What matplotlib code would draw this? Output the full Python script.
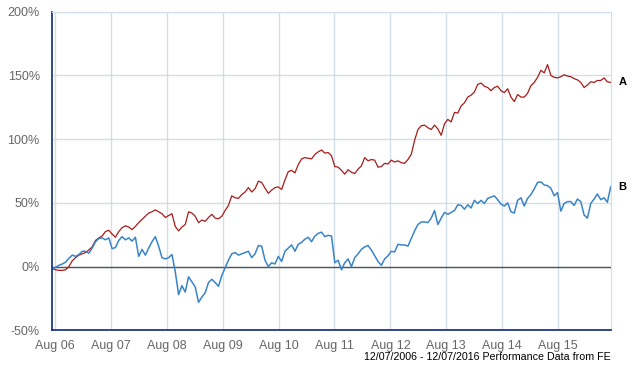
import pandas as pd
import matplotlib
matplotlib.use("Agg")
import matplotlib.pyplot as plt
import matplotlib.dates as mdates
from matplotlib.ticker import FuncFormatter

plt.rcParams['font.family'] = ['Liberation Sans', 'DejaVu Sans']

# cumulative performance (%), every ~3 weeks
series_a = [
    -1.5, -2.5, -3, -3, -2.5, 0, 4.5, 7, 9, 10, 11, 13, 15.5, 20.5, 22.5, 24, 27.5,
    28.5, 25.5, 23, 27.5, 30.5, 32, 31, 29, 31.5, 34.5, 37, 39.5, 42, 43, 44.5, 43, 41.5,
    38.5, 40, 41.5, 31.5, 28, 31, 33, 43, 42, 39.5, 34.5, 36.5, 35.5, 38.5, 41, 38,
    37.5, 39.5, 44, 48, 55.5, 54, 53.5, 56.5, 58.5, 62, 58.5, 61, 67, 66, 61.5, 57.5, 60, 62,
    62.5, 60.5, 68, 74.5, 75.5, 73.5, 80, 84.5, 85.5, 85, 84.5, 88, 90, 91.5, 89, 89.5,
    87, 78.5, 78, 75.5, 72.5, 76, 74, 73, 76.5, 79, 85.5, 83, 84, 83.5, 78, 78.5, 81, 80.5,
    83.5, 82, 83, 81.5, 81, 84, 88, 99, 107.5, 110.5, 111, 109, 107.5, 111, 108, 103,
    112, 115.5, 113.5, 121, 120.5, 126, 128.5, 133, 134.5, 137, 143, 144, 141.5, 140.5,
    138, 140.5, 141.5, 138,
    136.5, 139.5, 133, 129.5, 135, 133, 133, 136, 142, 144.5, 148.5, 154, 152, 158.5,
    150, 148.5, 148, 149, 150.5, 149.5, 149, 147.5, 146.5, 144.5, 140.5, 142.5, 145,
    144.5, 146, 146, 148, 145, 144.5,
]

series_b = [
    -2, -0.5, 1, 2, 3.5, 6.5, 9, 8, 9.5, 12, 12, 10.5, 14.5, 19.5, 22, 22.5, 21, 22.5,
    14, 15, 20.5, 23.5, 21, 22.5, 20, 23, 8, 13.5, 9, 14.5, 19.5, 23.5, 16, 7,
    6, 7, 9.5, -4, -22, -15, -20, -8, -12, -16, -28, -24, -20.5, -12.5, -10, -12.5,
    -15.5, -7, -1, 5, 10, 11, 9, 10, 11, 12, 7, 10, 16.5, 16, 5, 0, 3, 2,
    8, 4, 12, 14.5, 17, 12, 17.5, 19, 21.5, 23, 19.5, 24, 26, 27, 23.5, 24.5, 24, 3,
    5, -2.5, 3, 6, 0, 7, 10, 13.5, 15.5, 16.5, 13, 8.5, 4, 1, 6, 8.5,
    12, 11.5, 17.5, 17, 17, 16, 22, 28, 33, 35, 35, 34.5, 38, 44, 33, 38, 42.5, 41,
    42.5, 44, 48.5, 48, 45, 48.5, 46, 52, 49.5, 52, 49.5, 53.5, 54.5, 55.5, 52.5, 49,
    47.5, 50, 43, 42, 52, 54, 47.5, 53.5, 56.5, 61, 66, 66.5, 64, 63.5, 61.5, 55.5, 58,
    43.5, 49.5, 51, 51, 48, 53, 51, 40.5, 38, 49.5, 53, 57, 52.5, 54, 50.5, 62.5,
]

start, end = "2006-07-12", "2016-07-12"
dates = pd.date_range(start, end, periods=len(series_a))

fig = plt.figure(figsize=(6.4, 3.7), dpi=100)
ax = fig.add_axes([0.0817, 0.1073, 0.8725, 0.8611])

ax.plot(dates, series_a, color="#a81b1b", lw=0.9)
ax.plot(dates, series_b, color="#3a84c8", lw=1.1)
ax.axhline(0, color="#555555", lw=1.0, zorder=1)

ax.set_xlim(pd.Timestamp(start), pd.Timestamp(end))
ax.set_ylim(-50, 200)
ax.set_yticks([-50, 0, 50, 100, 150, 200])
ax.yaxis.set_major_formatter(FuncFormatter(lambda v, p: f"{v:.0f}%"))
ax.xaxis.set_major_locator(mdates.YearLocator(base=1, month=8, day=1))
ax.xaxis.set_major_formatter(mdates.DateFormatter("%b %y"))

ax.grid(True, color="#d3dfe8", lw=1.0)
ax.set_axisbelow(True)
ax.tick_params(length=0, labelsize=9, labelcolor="#666666")
ax.tick_params(axis="y", pad=9)
ax.tick_params(axis="x", pad=7)

for s in ["top", "right"]:
    ax.spines[s].set_color("#d3dfe8")
for s in ["left", "bottom"]:
    ax.spines[s].set_color("#0c2a80")
    ax.spines[s].set_linewidth(1.2)

ax.annotate("A", xy=(dates[-1], series_a[-1]), xytext=(12, 0), textcoords="offset pixels",
            ha="center", va="center", fontsize=8, fontweight="bold", annotation_clip=False)
ax.annotate("B", xy=(dates[-1], series_b[-1]), xytext=(12, 0), textcoords="offset pixels",
            ha="center", va="center", fontsize=8, fontweight="bold", annotation_clip=False)

fig.text(0.9542, 0.022, "12/07/2006 - 12/07/2016 Performance Data from FE",
         ha="right", va="bottom", fontsize=7.7)

fig.savefig("out.png", dpi=100)
